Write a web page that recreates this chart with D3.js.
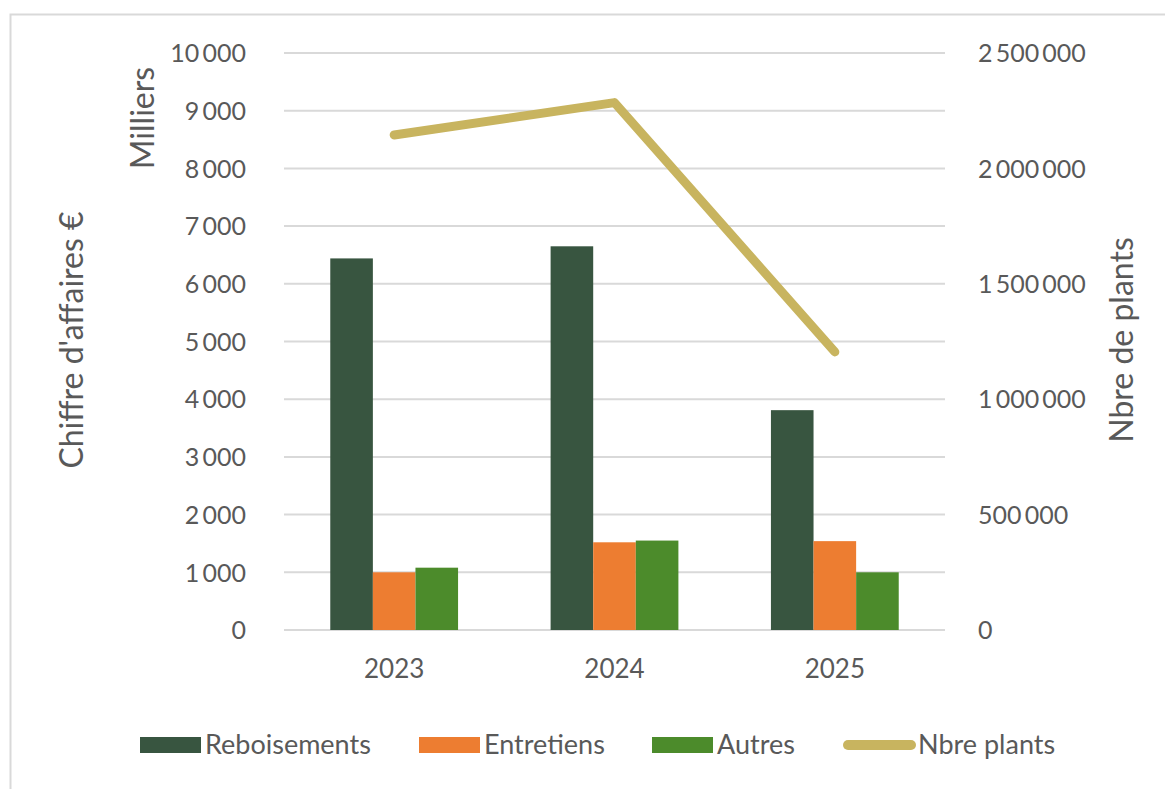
<!DOCTYPE html>
<html>
<head>
    <meta charset="utf-8">
    <script src="https://d3js.org/d3.v7.min.js"></script>
    <style>
        body { margin: 0; background: #fff; }
        text { font-family: Lato, "Open Sans", sans-serif; fill: #595959; }
    </style>
</head>
<body>
<div id="my_dataviz"></div>
<script>

    // data
    var years = ["2023", "2024", "2025"];
    var seriesNames = ["Reboisements", "Entretiens", "Autres"];
    var reboisements = [6440, 6650, 3810];
    var entretiens = [1000, 1520, 1540];
    var autres = [1080, 1550, 1000];
    var nbrePlants = [2145000, 2285000, 1205000];
    var leftTicks = [0, 1000, 2000, 3000, 4000, 5000, 6000, 7000, 8000, 9000, 10000];
    var rightTicks = [0, 500000, 1000000, 1500000, 2000000, 2500000];

    var W = 1165, H = 789;
    var margin = { top: 53, left: 284, right: 220, bottom: 159 };
    var width = W - margin.left - margin.right,
        height = H - margin.top - margin.bottom;

    var colors = { Reboisements: "#385540", Entretiens: "#ed7d31", Autres: "#4c8b2b" };
    var lineColor = "#c8b45f";

    var svgRoot = d3.select("#my_dataviz")
        .append("svg")
        .attr("width", W)
        .attr("height", H);

    // outer frame
    svgRoot.append("rect")
        .attr("x", 10.5).attr("y", 14.5)
        .attr("width", 1200).attr("height", 900)
        .attr("fill", "none")
        .attr("stroke", "#d9d9d9")
        .attr("stroke-width", 2);

    var svg = svgRoot.append("g")
        .attr("transform", "translate(" + margin.left + "," + margin.top + ")");

    var fmt = d3.formatLocale({ decimal: ",", thousands: "\u2009", grouping: [3], currency: ["", " €"] }).format(",d");

    var x = d3.scaleBand().domain(years).range([0, width]).paddingInner(0).paddingOuter(0);
    var xSub = d3.scaleBand().domain(seriesNames).range([0, x.bandwidth() * 0.58]);
    var y = d3.scaleLinear().domain([0, 10000]).range([height, 0]);
    var y2 = d3.scaleLinear().domain([0, 2500000]).range([height, 0]);

    // gridlines
    svg.append("g")
        .selectAll("line")
        .data(leftTicks)
        .enter().append("line")
        .attr("x1", 0).attr("x2", width)
        .attr("y1", d => y(d)).attr("y2", d => y(d))
        .attr("stroke", "#d9d9d9")
        .attr("stroke-width", 2);

    // left axis
    var gl = svg.append("g")
        .attr("transform", "translate(-35,0)")
        .call(d3.axisLeft(y).tickValues(leftTicks).tickFormat(fmt).tickSize(0));
    gl.select(".domain").remove();
    gl.selectAll("text").style("font-size", "25px").attr("dy", "0.35em");

    // right axis
    var gr = svg.append("g")
        .attr("transform", "translate(" + (width + 30) + ",0)")
        .call(d3.axisRight(y2).tickValues(rightTicks).tickFormat(fmt).tickSize(0));
    gr.select(".domain").remove();
    gr.selectAll("text").style("font-size", "25px").attr("dy", "0.35em");

    // x axis labels
    var gx = svg.append("g")
        .attr("transform", "translate(0," + height + ")")
        .call(d3.axisBottom(x).tickSize(0).tickPadding(30));
    gx.select(".domain").remove();
    gx.selectAll("text").style("font-size", "26px");

    // bars
    var table = years.map((yr, i) => ({ year: yr, Reboisements: reboisements[i], Entretiens: entretiens[i], Autres: autres[i] }));
    var groupOffset = (x.bandwidth() - xSub.range()[1]) / 2;

    svg.append("g")
        .selectAll("g")
        .data(table)
        .enter().append("g")
        .attr("transform", d => "translate(" + (x(d.year) + groupOffset) + ",0)")
        .selectAll("rect")
        .data(d => seriesNames.map(k => ({ key: k, value: d[k] })))
        .enter().append("rect")
        .attr("x", d => xSub(d.key))
        .attr("y", d => y(d.value))
        .attr("width", xSub.bandwidth())
        .attr("height", d => height - y(d.value))
        .attr("fill", d => colors[d.key]);

    // line
    var line = d3.line()
        .x((d, i) => x(years[i]) + x.bandwidth() / 2)
        .y(d => y2(d));

    svg.append("path")
        .datum(nbrePlants)
        .attr("d", line)
        .attr("fill", "none")
        .attr("stroke", lineColor)
        .attr("stroke-width", 9)
        .attr("stroke-linecap", "round")
        .attr("stroke-linejoin", "round");

    // axis titles
    svgRoot.append("text")
        .attr("transform", "translate(83,340) rotate(-90)")
        .style("text-anchor", "middle")
        .style("font-size", "32px")
        .text("Chiffre d'affaires €");

    svgRoot.append("text")
        .attr("transform", "translate(154,118) rotate(-90)")
        .style("text-anchor", "middle")
        .style("font-size", "32px")
        .text("Milliers");

    svgRoot.append("text")
        .attr("transform", "translate(1133,340) rotate(-90)")
        .style("text-anchor", "middle")
        .style("font-size", "32px")
        .text("Nbre de plants");

    // legend
    var legendItems = [
        { name: "Reboisements", x: 140, type: "bar" },
        { name: "Entretiens", x: 419, type: "bar" },
        { name: "Autres", x: 652, type: "bar" },
        { name: "Nbre plants", x: 843, type: "line" }
    ];
    var legend = svgRoot.append("g").attr("transform", "translate(0,745)");
    legendItems.forEach(function (it) {
        if (it.type === "bar") {
            legend.append("rect")
                .attr("x", it.x).attr("y", -8)
                .attr("width", 61).attr("height", 16)
                .attr("fill", colors[it.name]);
            legend.append("text")
                .attr("x", it.x + 65).attr("y", 0)
                .attr("dy", "0.35em")
                .style("font-size", "27px")
                .text(it.name);
        } else {
            legend.append("line")
                .attr("x1", it.x + 5).attr("x2", it.x + 68)
                .attr("y1", 0).attr("y2", 0)
                .attr("stroke", lineColor)
                .attr("stroke-width", 10)
                .attr("stroke-linecap", "round");
            legend.append("text")
                .attr("x", it.x + 75).attr("y", 0)
                .attr("dy", "0.35em")
                .style("font-size", "27px")
                .text(it.name);
        }
    });

</script>
</body>
</html>
